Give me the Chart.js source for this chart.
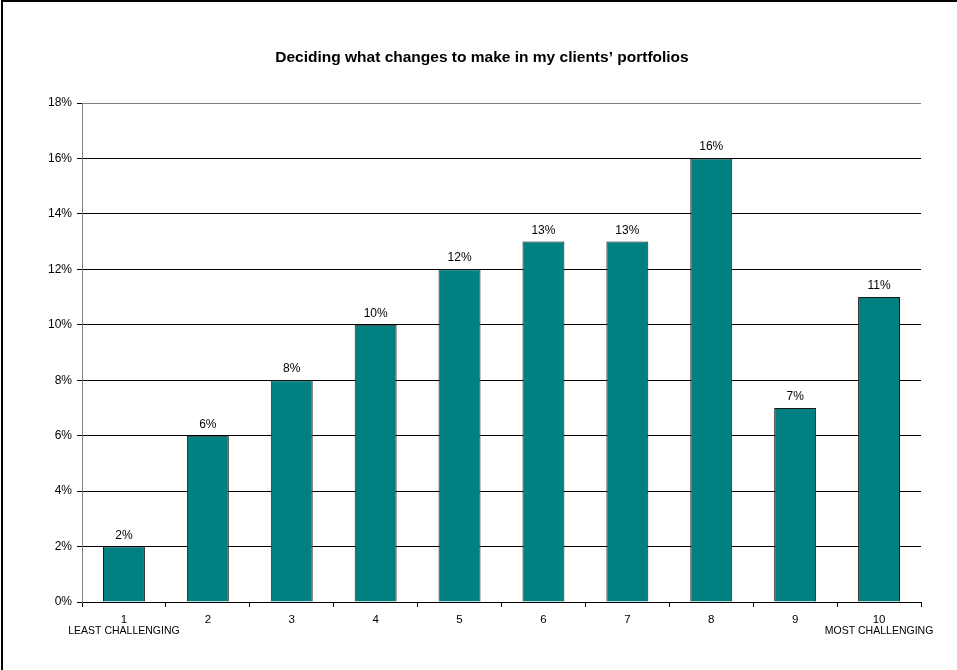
<!DOCTYPE html>
<html>
<head>
<meta charset="utf-8">
<script src="https://cdn.jsdelivr.net/npm/chart.js@4/dist/chart.umd.min.js"></script>
<style>
  html, body { margin: 0; padding: 0; background: #fff; }
  #wrap { width: 957px; height: 670px; position: relative; }
</style>
</head>
<body>
<div id="wrap"><canvas id="c" width="957" height="670"></canvas></div>
<script>
// Survey ratings: share of respondents per difficulty score
const chartTitle = 'Deciding what changes to make in my clients\u2019 portfolios';
const categories = ['1', '2', '3', '4', '5', '6', '7', '8', '9', '10'];
const shares = [2, 6, 8, 10, 12, 13, 13, 16, 7, 11];
const scaleNotes = ['LEAST CHALLENGING', '', '', '', '', '', '', '', '', 'MOST CHALLENGING'];
const yTicks = [0, 2, 4, 6, 8, 10, 12, 14, 16, 18];

const FONT = '"Liberation Sans", Arial, Helvetica, sans-serif';

const decorations = {
  id: 'decorations',
  beforeDraw(chart) {
    const ctx = chart.ctx;
    ctx.save();
    ctx.fillStyle = '#fff';
    ctx.fillRect(0, 0, chart.width, chart.height);
    // outer frame
    ctx.strokeStyle = '#000';
    ctx.lineWidth = 2;
    ctx.strokeRect(2, 1, chart.width + 20, chart.height + 20);
    // title
    ctx.fillStyle = '#000';
    ctx.font = 'bold 15.5px ' + FONT;
    ctx.textAlign = 'center';
    ctx.textBaseline = 'middle';
    ctx.fillText(chartTitle, 482, 58);
    ctx.restore();
  },
  afterDatasetsDraw(chart) {
    const ctx = chart.ctx;
    const meta = chart.getDatasetMeta(0);
    const x = chart.scales.x;
    ctx.save();
    ctx.fillStyle = '#000';
    ctx.textAlign = 'center';
    // value labels above bars
    ctx.font = '12px ' + FONT;
    ctx.textBaseline = 'alphabetic';
    meta.data.forEach((bar, i) => {
      ctx.fillText(shares[i] + '%', bar.x, bar.y - 8);
    });
    // end-of-scale notes under the category labels
    ctx.font = '10.5px ' + FONT;
    ctx.textBaseline = 'middle';
    scaleNotes.forEach((note, i) => {
      if (note) ctx.fillText(note, x.getPixelForValue(i), 631);
    });
    ctx.restore();
  }
};

new Chart(document.getElementById('c'), {
  type: 'bar',
  data: {
    labels: categories,
    datasets: [{
      data: shares,
      backgroundColor: '#008080',
      borderColor: '#1a1a1a',
      borderWidth: 1,
      categoryPercentage: 1.0,
      barPercentage: 0.5
    }]
  },
  options: {
    responsive: false,
    animation: false,
    devicePixelRatio: 1,
    layout: { padding: { top: 103, right: 36, left: 4, bottom: 0 } },
    plugins: {
      legend: { display: false },
      title: { display: false },
      tooltip: { enabled: false }
    },
    scales: {
      x: {
        grid: {
          drawOnChartArea: false,
          drawTicks: true,
          tickLength: 5,
          color: '#000',
          offset: true
        },
        border: { color: '#000', width: 1 },
        ticks: {
          color: '#000',
          font: { family: FONT, size: 11.5 },
          padding: 6,
          maxRotation: 0
        },
        afterFit(scale) { scale.height = 68; }
      },
      y: {
        min: 0,
        max: 18,
        afterBuildTicks(scale) { scale.ticks = yTicks.map(v => ({ value: v })); },
        grid: {
          color: ctx => (ctx.tick && ctx.tick.value === 18 ? '#808080' : '#000'),
          tickColor: '#000',
          tickLength: 5,
          lineWidth: 1
        },
        border: { color: '#808080', width: 1 },
        ticks: {
          color: '#000',
          font: { family: FONT, size: 12 },
          padding: 5,
          callback: v => v + '%'
        },
        afterFit(scale) { scale.width = 78; }
      }
    }
  },
  plugins: [decorations]
});
</script>
</body>
</html>
